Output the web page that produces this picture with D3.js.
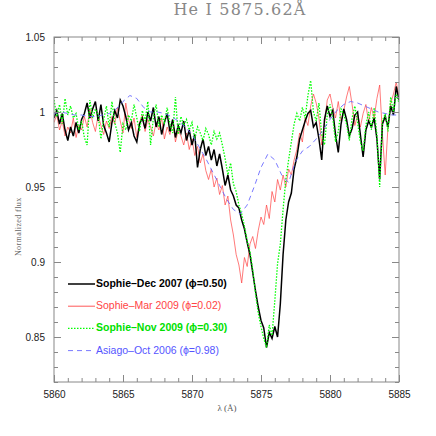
<!DOCTYPE html>
<html>
<head>
<meta charset="utf-8">
<script src="https://cdn.jsdelivr.net/npm/d3@7"></script>
<style>
body { margin:0; background:#fff; }
#canvas { width:436px; height:436px; }
</style>
</head>
<body>
<div id="canvas" class="canvas"></div>
<script>
// sampling grid of the Sophie spectra (Angstrom) and of the Asiago one
var waveSophie = d3.range(126).map(function(i){ return 5860 + i * 0.2; });
var waveAsiago = d3.range(51).map(function(i){ return 5860 + i * 0.5; });

var fluxDec2007 = [
 0.996,1.001,0.992,0.999,0.988,0.981,0.990,0.984,0.993,0.986,
 0.995,0.999,1.006,0.996,1.002,1.007,0.994,1.005,0.991,0.986,
 0.980,0.993,1.001,0.996,1.008,1.004,0.997,0.988,0.993,0.984,
 0.980,0.992,0.996,0.989,1.000,0.994,1.003,0.990,0.997,0.985,
 0.993,0.999,0.987,0.995,0.983,0.991,0.986,0.994,0.981,0.988,
 0.978,0.985,0.963,0.975,0.982,0.971,0.977,0.968,0.975,0.964,
 0.972,0.962,0.951,0.958,0.948,0.944,0.938,0.936,0.928,0.922,
 0.913,0.905,0.893,0.881,0.870,0.861,0.856,0.843,0.853,0.849,
 0.857,0.850,0.872,0.905,0.928,0.940,0.946,0.962,0.970,0.982,
 0.988,0.994,0.999,1.001,0.990,0.993,0.982,0.968,0.995,1.004,
 0.997,1.001,0.985,0.973,0.992,1.002,0.995,0.984,0.989,0.998,
 1.000,0.985,0.970,0.988,0.994,0.990,0.996,0.982,0.955,0.992,
 0.997,0.990,1.004,0.998,1.017,1.008];

var fluxMar2009 = [
 0.993,0.998,0.988,0.994,0.984,0.990,0.986,0.996,0.983,0.991,
 0.988,0.997,0.990,1.002,0.993,0.987,0.998,0.991,0.985,0.994,
 0.989,0.997,0.992,1.003,0.994,0.986,1.006,0.995,0.989,0.996,
 0.983,0.993,0.998,0.987,0.995,0.990,0.984,0.993,0.988,0.996,
 0.982,0.990,0.985,0.994,0.980,0.988,0.984,0.978,0.986,0.975,
 0.982,0.971,0.977,0.966,0.972,0.961,0.955,0.962,0.950,0.956,
 0.945,0.951,0.938,0.944,0.928,0.918,0.905,0.898,0.886,0.903,
 0.897,0.912,0.917,0.909,0.921,0.930,0.925,0.938,0.929,0.947,
 0.940,0.955,0.948,0.958,0.950,0.962,0.958,0.968,0.975,0.986,
 0.980,0.996,0.991,1.004,1.012,1.006,0.996,0.978,0.992,1.008,
 1.012,1.003,0.996,1.007,0.994,1.001,1.010,1.017,1.005,0.991,
 0.998,0.990,0.999,1.005,0.993,1.003,0.996,1.009,1.018,0.985,
 0.958,0.990,1.006,1.012,1.020,1.010];

var fluxNov2009 = [
 1.008,0.997,1.005,0.992,1.009,0.998,1.004,0.996,0.999,0.988,
 0.994,0.983,0.978,1.008,0.996,1.002,0.998,0.982,0.995,1.004,
 0.990,1.007,0.993,0.986,0.973,0.992,0.988,0.998,0.994,1.005,
 0.996,0.987,1.001,0.994,1.007,0.978,0.996,1.005,0.990,0.998,
 0.993,1.003,0.992,0.986,1.010,0.985,0.997,0.991,0.995,0.988,
 0.993,0.982,0.990,0.986,0.981,0.989,0.985,0.978,0.987,0.982,
 0.986,0.978,0.969,0.958,0.966,0.952,0.947,0.938,0.932,0.924,
 0.914,0.907,0.895,0.879,0.866,0.857,0.849,0.843,0.858,0.851,
 0.874,0.899,0.912,0.935,0.955,0.968,0.980,0.992,0.999,0.994,
 1.003,0.996,1.011,1.021,1.000,0.994,1.006,0.985,0.978,0.998,
 1.005,0.996,0.980,0.987,1.002,0.998,0.992,0.981,0.996,1.004,
 0.993,0.980,0.974,0.991,1.000,0.988,1.003,0.985,0.950,0.994,
 0.999,0.987,1.010,1.000,1.012,1.006];

var fluxOct2006 = [
 0.999,1.000,0.999,0.998,0.998,0.997,0.997,0.998,0.999,1.002,
 1.007,1.011,1.009,1.003,1.000,1.000,0.999,0.997,0.994,0.990,
 0.985,0.977,0.969,0.960,0.951,0.942,0.935,0.932,0.938,0.950,
 0.963,0.972,0.968,0.958,0.953,0.967,0.974,0.977,0.982,0.988,
 0.995,1.001,1.005,1.007,1.006,1.004,1.002,1.000,0.999,0.998,
 0.998];

var legendLabels = ['Sophie\u2013Dec 2007 (\u03d5=0.50)',
                    'Sophie\u2013Mar 2009 (\u03d5=0.02)',
                    'Sophie\u2013Nov 2009 (\u03d5=0.30)',
                    'Asiago\u2013Oct 2006 (\u03d5=0.98)'];

var xMajor = [5860,5865,5870,5875,5880,5885];
var xMinor = d3.range(5860, 5886, 1);
var yMajor = [0.85,0.9,0.95,1,1.05];
var yMajorLabels = ['0.85','0.9','0.95','1','1.05'];
var yMinor = d3.range(82, 106).map(function(v){ return v / 100; });

var m = {t:37,r:37,b:54,l:54},
    w = 436 - m.l - m.r,
    h = 436 - m.t - m.b;

var svg = d3.select('.canvas')
    .append('svg')
    .attr('width', 436)
    .attr('height', 436);

var plot = svg.append('g').attr('class','plot')
    .attr('transform','translate('+ m.l+','+ m.t+')');

var x = d3.scaleLinear().domain([5860,5885]).range([0,w]);
var y = d3.scaleLinear().domain([0.82,1.05]).range([h,0]);

// title and axis names
svg.append('text')
    .attr('x', 240).attr('y', 15)
    .attr('text-anchor','middle')
    .style('font-family','DejaVu Serif')
    .style('font-size','16px')
    .style('letter-spacing','1.2px')
    .style('fill','#888')
    .text('He I 5875.62\u00c5');

svg.append('text')
    .attr('transform','translate(21,'+(m.t+h*0.55)+') rotate(-90)')
    .attr('text-anchor','middle')
    .style('font-family','Liberation Serif')
    .style('font-size','8px')
    .style('letter-spacing','0.4px')
    .style('fill','#666')
    .text('Normalized flux');

svg.append('text')
    .attr('x', 227).attr('y', 411)
    .attr('text-anchor','middle')
    .style('font-family','Liberation Serif')
    .style('font-size','9px')
    .style('fill','#555')
    .text('\u03bb (\u00c5)');

// lines
var line = function(wave){
    return d3.line()
        .x(function(d,i){ return x(wave[i]); })
        .y(function(d){ return y(d); });
};

plot.append('defs').append('clipPath').attr('id','clip')
    .append('rect').attr('width', w).attr('height', h);

var lines = plot.append('g').attr('clip-path','url(#clip)');

lines.append('path').datum(fluxMar2009)
    .attr('d', line(waveSophie))
    .style('fill','none').style('stroke','#ff4545')
    .style('stroke-opacity',0.8).style('stroke-width',0.9);

lines.append('path').datum(fluxDec2007)
    .attr('d', line(waveSophie))
    .style('fill','none').style('stroke','#000')
    .style('stroke-width',1.5);

lines.append('path').datum(fluxNov2009)
    .attr('d', line(waveSophie))
    .style('fill','none').style('stroke','#00ff00')
    .style('stroke-width',1.3).style('stroke-dasharray','1.5,1.5');

lines.append('path').datum(fluxOct2006)
    .attr('d', line(waveAsiago))
    .style('fill','none').style('stroke','#6a6aff')
    .style('stroke-width',0.9).style('stroke-dasharray','5,4');

// frame and ticks
function styleAxis(g){
    g.select('.domain').remove();
    g.selectAll('line').style('stroke','#888');
    g.selectAll('text').style('font-family','Liberation Sans')
        .style('font-size','10px').style('fill','#222');
}

plot.append('g').attr('transform','translate(0,'+h+')')
    .call(d3.axisBottom(x).tickValues(xMinor).tickSize(-4).tickFormat(''))
    .call(styleAxis);
plot.append('g').attr('transform','translate(0,'+h+')')
    .call(d3.axisBottom(x).tickValues(xMajor).tickSize(-7).tickPadding(9).tickFormat(d3.format('d')))
    .call(styleAxis);
plot.append('g')
    .call(d3.axisTop(x).tickValues(xMinor).tickSize(-4).tickFormat(''))
    .call(styleAxis);
plot.append('g')
    .call(d3.axisTop(x).tickValues(xMajor).tickSize(-7).tickFormat(''))
    .call(styleAxis);

plot.append('g')
    .call(d3.axisLeft(y).tickValues(yMinor).tickSize(-4).tickFormat(''))
    .call(styleAxis);
plot.append('g')
    .call(d3.axisLeft(y).tickValues(yMajor).tickSize(-7).tickPadding(9)
        .tickFormat(function(d,i){ return yMajorLabels[i]; }))
    .call(styleAxis);
plot.append('g').attr('transform','translate('+w+',0)')
    .call(d3.axisRight(y).tickValues(yMinor).tickSize(-4).tickFormat(''))
    .call(styleAxis);
plot.append('g').attr('transform','translate('+w+',0)')
    .call(d3.axisRight(y).tickValues(yMajor).tickSize(-7).tickFormat(''))
    .call(styleAxis);

plot.append('rect')
    .attr('width', w).attr('height', h)
    .style('fill','none').style('stroke','#888').style('stroke-width',1);

// legend
var legendStyle = [
    {stroke:'#000', width:1.5, dash:null, text:'#000', weight:'bold'},
    {stroke:'#ff4545', width:0.9, dash:null, text:'#ff4545', weight:'normal'},
    {stroke:'#00ff00', width:1.3, dash:'1.5,1.5', text:'#00e000', weight:'bold'},
    {stroke:'#6a6aff', width:0.9, dash:'5,4', text:'#5555ff', weight:'normal'}
];

var legend = plot.selectAll('.legend')
    .data(legendLabels)
    .enter()
    .append('g').attr('class','legend')
    .attr('transform', function(d,i){ return 'translate(14,'+(247 + i*22.2)+')'; });

legend.append('line')
    .attr('x1',0).attr('x2',27).attr('y1',0).attr('y2',0)
    .style('stroke', function(d,i){ return legendStyle[i].stroke; })
    .style('stroke-width', function(d,i){ return legendStyle[i].width; })
    .style('stroke-dasharray', function(d,i){ return legendStyle[i].dash; });

legend.append('text')
    .attr('x', 28).attr('y', 3)
    .style('font-family','Liberation Sans')
    .style('font-size','10.5px')
    .style('font-weight', function(d,i){ return legendStyle[i].weight; })
    .style('fill', function(d,i){ return legendStyle[i].text; })
    .text(function(d){ return d; });
</script>
</body>
</html>
